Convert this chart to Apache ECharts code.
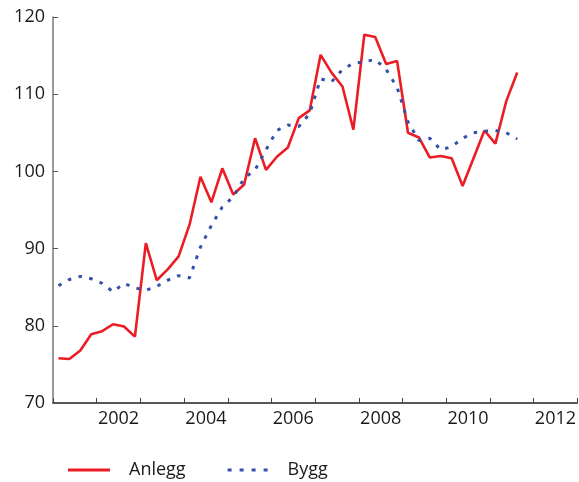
<!DOCTYPE html>
<html>
<head>
<meta charset="utf-8">
<script src="https://cdn.jsdelivr.net/npm/echarts@6/dist/echarts.min.js"></script>
<style>html,body{margin:0;padding:0;background:#fff}#c{width:579px;height:482px}</style>
</head>
<body>
<div id="c"></div>
<script>
// Quarterly categories 2001Q1 .. 2012Q4
var years = ['2001','2002','2003','2004','2005','2006','2007','2008','2009','2010','2011','2012'];
var quarters = [];
years.forEach(function (y) { for (var q = 1; q <= 4; q++) quarters.push(y + 'K' + q); });

var seriesNames = ['Anlegg', 'Bygg'];
var anlegg = [75.8, 75.7, 76.8, 78.9, 79.3, 80.2, 79.9, 78.6,
  90.7, 85.9, 87.3, 89.0, 93.1, 99.3, 96.0, 100.4,
  97.0, 98.3, 104.3, 100.2, 101.9, 103.1, 106.9, 107.9,
  115.1, 112.8, 111.0, 105.4, 117.7, 117.4, 113.9, 114.3,
  105.0, 104.4, 101.8, 102.0, 101.7, 98.1, 101.7, 105.3,
  103.6, 109.1, 112.8];
var bygg = [85.2, 86.0, 86.4, 86.1, 85.5, 84.4, 85.5, 84.9,
  84.6, 85.1, 85.9, 86.5, 86.2, 90.2, 93.0, 95.4,
  96.7, 99.1, 100.2, 102.8, 105.3, 106.0, 105.8, 107.5,
  112.0, 111.6, 113.2, 114.0, 114.2, 114.5, 113.2, 110.9,
  106.4, 104.0, 104.3, 102.8, 103.2, 104.3, 105.0, 105.2,
  105.3, 105.0, 104.2];
var yTicks = { min: 70, max: 120, interval: 10 };

var font = '"Open Sans", "Noto Sans", sans-serif';
var chart = echarts.init(document.getElementById('c'), null, { renderer: 'canvas' });
chart.setOption({
  animation: false,
  backgroundColor: '#ffffff',
  grid: { left: 53, right: 1, top: 17, bottom: 79, containLabel: false },
  legend: {
    left: 63, top: 456,
    itemWidth: 42, itemHeight: 3, itemGap: 42,
    textStyle: { fontFamily: font, fontSize: 18, color: '#1a1a1a', padding: [0, 0, 0, 14] },
    data: [
      { name: seriesNames[0], icon: 'path://M0,0H42V3H0Z' },
      { name: seriesNames[1], icon: 'path://M0,0h4v3h-4z M12,0h4v3h-4z M24,0h4v3h-4z M36,0h4v3h-4z' }
    ]
  },
  xAxis: [
    {
      type: 'category', data: quarters, boundaryGap: true,
      axisLine: { show: false }, axisTick: { show: false }, axisLabel: { show: false },
      splitLine: { show: false }
    },
    {
      type: 'category', data: years, boundaryGap: true, position: 'bottom',
      axisLine: { show: true, onZero: false, lineStyle: { color: '#222222', width: 1.5 } },
      axisTick: { show: true, inside: true, length: 5, interval: 0, lineStyle: { color: '#444444', width: 1 } },
      axisLabel: {
        interval: function (i) { return i % 2 === 1; },
        fontFamily: font, fontSize: 18, color: '#1a1a1a', margin: 7
      },
      splitLine: { show: false }
    }
  ],
  yAxis: {
    type: 'value', min: yTicks.min, max: yTicks.max, interval: yTicks.interval,
    axisLine: { show: true, lineStyle: { color: '#7a7a7a', width: 1.5 } },
    axisTick: { show: true, inside: true, length: 5, lineStyle: { color: '#555555' } },
    axisLabel: { fontFamily: font, fontSize: 18, color: '#1a1a1a', margin: 8 },
    splitLine: { show: false }
  },
  series: [
    {
      name: seriesNames[0], type: 'line', xAxisIndex: 0, data: anlegg,
      symbol: 'none', color: '#ec1c24',
      lineStyle: { color: '#ec1c24', width: 2.6 }
    },
    {
      name: seriesNames[1], type: 'line', xAxisIndex: 0, data: bygg,
      symbol: 'none', color: '#3550a8',
      lineStyle: { color: '#3550a8', width: 3, type: [3.5, 7.5], cap: 'butt' }
    }
  ]
});
</script>
</body>
</html>
